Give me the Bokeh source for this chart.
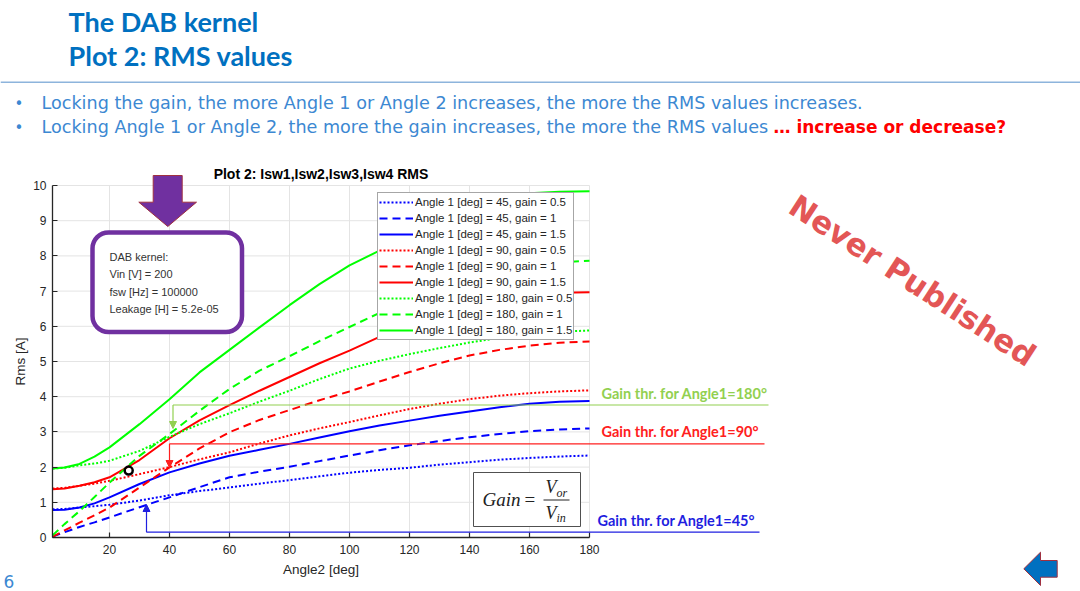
from bokeh.plotting import figure
from bokeh.models import (Range1d, FixedTicker, Label, Legend, LegendItem, Arrow, LinearAxis,
                          NormalHead, BoxAnnotation, PolyAnnotation)
from bokeh.embed import file_html
from bokeh.resources import INLINE

# ---------------- data ----------------
angle2 = [1, 5, 10, 15, 20, 30, 40, 50, 60, 70, 80, 90, 100, 110, 120, 130, 140, 150, 160, 170, 180]

rms_a45_g05 = [0.80, 0.81, 0.85, 0.89, 0.93, 1.05, 1.20, 1.32, 1.42, 1.53, 1.63, 1.74, 1.84, 1.92, 1.98, 2.07, 2.14, 2.21, 2.26, 2.30, 2.33]
rms_a45_g1 = [0.03, 0.15, 0.30, 0.43, 0.57, 0.86, 1.14, 1.43, 1.71, 1.87, 2.01, 2.17, 2.33, 2.48, 2.62, 2.74, 2.85, 2.94, 3.02, 3.07, 3.10]
rms_a45_g15 = [0.78, 0.79, 0.85, 0.97, 1.14, 1.52, 1.85, 2.10, 2.32, 2.49, 2.66, 2.84, 3.02, 3.18, 3.32, 3.46, 3.58, 3.70, 3.80, 3.86, 3.88]
rms_a90_g05 = [1.39, 1.41, 1.47, 1.53, 1.61, 1.80, 2.00, 2.22, 2.42, 2.67, 2.90, 3.10, 3.28, 3.47, 3.65, 3.80, 3.93, 4.03, 4.10, 4.15, 4.18]
rms_a90_g1 = [0.02, 0.20, 0.42, 0.63, 0.85, 1.42, 1.99, 2.53, 2.99, 3.34, 3.62, 3.90, 4.15, 4.43, 4.70, 4.95, 5.17, 5.33, 5.45, 5.53, 5.57]
rms_a90_g15 = [1.37, 1.39, 1.47, 1.57, 1.71, 2.20, 2.82, 3.33, 3.76, 4.17, 4.56, 4.95, 5.31, 5.70, 6.05, 6.33, 6.57, 6.75, 6.87, 6.95, 6.97]
rms_a180_g05 = [1.96, 1.98, 2.05, 2.10, 2.18, 2.46, 2.86, 3.22, 3.53, 3.86, 4.17, 4.50, 4.80, 5.02, 5.21, 5.38, 5.54, 5.67, 5.78, 5.85, 5.88]
rms_a180_g1 = [0.06, 0.38, 0.75, 1.15, 1.56, 2.32, 2.94, 3.60, 4.22, 4.74, 5.15, 5.58, 5.98, 6.38, 6.78, 7.10, 7.37, 7.58, 7.73, 7.82, 7.86]
rms_a180_g15 = [1.96, 1.99, 2.09, 2.30, 2.56, 3.22, 3.93, 4.69, 5.33, 5.97, 6.60, 7.20, 7.73, 8.15, 8.60, 9.05, 9.45, 9.70, 9.78, 9.82, 9.84]

series_labels = [
    "Angle 1 [deg] = 45, gain = 0.5", "Angle 1 [deg] = 45, gain = 1", "Angle 1 [deg] = 45, gain = 1.5",
    "Angle 1 [deg] = 90, gain = 0.5", "Angle 1 [deg] = 90, gain = 1", "Angle 1 [deg] = 90, gain = 1.5",
    "Angle 1 [deg] = 180, gain = 0.5", "Angle 1 [deg] = 180, gain = 1", "Angle 1 [deg] = 180, gain = 1.5",
]
series_values = [rms_a45_g05, rms_a45_g1, rms_a45_g15,
                 rms_a90_g05, rms_a90_g1, rms_a90_g15,
                 rms_a180_g05, rms_a180_g1, rms_a180_g15]

x_min, x_max = 1, 180
y_min, y_max = 0, 10
x_ticks = [20, 40, 60, 80, 100, 120, 140, 160, 180]
y_ticks = [0, 1, 2, 3, 4, 5, 6, 7, 8, 9, 10]

marker_x = [26.4]
marker_y = [1.90]

threshold_labels = ["Gain thr. for Angle1=180°", "Gain thr. for Angle1=90°", "Gain thr. for Angle1=45°"]
kernel_lines = ["DAB kernel:", "Vin [V] = 200", "fsw [Hz] = 100000", "Leakage [H] = 5.2e-05"]


# slide pixel -> chart data coordinates (chart: x=1 at px 52, 3 px/deg; y=0 at px 537, 35.2 px/A)
def X(px):
    return (px - 49.0) / 3.0


def Y(py):
    return (537.0 - py) / 35.2


# ---------------- figure ----------------
W, H = 1080, 591
p = figure(width=W, height=H, x_range=Range1d(X(0), X(W)), y_range=Range1d(Y(H), Y(0)),
           output_backend="svg", toolbar_location=None, x_axis_type=None, y_axis_type=None,
           min_border=0, background_fill_color="white", border_fill_color="white",
           outline_line_color=None)
p.title.visible = False

# grid lines at the tick values
grid_col = "#e4e4e4"
p.segment(x0=x_ticks, y0=[y_min] * len(x_ticks), x1=x_ticks, y1=[y_max] * len(x_ticks),
          line_color=grid_col, line_width=1)
p.segment(x0=[x_min] * len(y_ticks), y0=y_ticks, x1=[x_max] * len(y_ticks), y1=y_ticks,
          line_color=grid_col, line_width=1)

xaxis = LinearAxis(fixed_location=y_min, bounds=(x_min, x_max), ticker=FixedTicker(ticks=x_ticks),
                   axis_label="Angle2 [deg]")
yaxis = LinearAxis(fixed_location=x_min, bounds=(y_min, y_max), ticker=FixedTicker(ticks=y_ticks),
                   axis_label="Rms [A]")
for ax in (xaxis, yaxis):
    ax.axis_line_color = "#262626"
    ax.axis_line_width = 1.3
    ax.major_tick_line_color = "#262626"
    ax.major_tick_line_width = 1.2
    ax.major_tick_in = 5
    ax.major_tick_out = 0
    ax.minor_tick_line_color = None
    ax.major_label_text_font = "Liberation Sans"
    ax.major_label_text_font_size = "12px"
    ax.major_label_text_color = "#262626"
    ax.axis_label_text_font = "Liberation Sans"
    ax.axis_label_text_font_size = "13.5px"
    ax.axis_label_text_font_style = "normal"
    ax.axis_label_text_color = "#262626"
xaxis.major_label_standoff = 7
xaxis.axis_label_standoff = 5
yaxis.major_label_standoff = 6
yaxis.axis_label_standoff = 2
p.add_layout(xaxis, "below")
p.add_layout(yaxis, "left")

colors = ["#0000ff"] * 3 + ["#ff0000"] * 3 + ["#00ff00"] * 3
dashes = ["2 2", "8 5", "solid"] * 3

items = []
for lab, vals, c, d in zip(series_labels, series_values, colors, dashes):
    r = p.line(angle2, vals, line_color=c, line_width=2, line_dash=d)
    items.append(LegendItem(label=lab, renderers=[r]))

p.scatter(marker_x, marker_y, marker="circle", size=8, fill_color=None,
          line_color="black", line_width=2.5)

legend = Legend(items=items, location=(377, H - 339.5), margin=0, padding=1, spacing=0,
                glyph_width=34, glyph_height=16, label_height=16, label_standoff=2,
                label_text_font="Liberation Sans", label_text_font_size="11.5px",
                label_text_color="#262626", border_line_color="#a6a6a6", border_line_alpha=1,
                border_line_width=1, background_fill_color="white", background_fill_alpha=1)
p.add_layout(legend, "center")


def label(px, py, text, font, size, color, style="normal", align="left", angle=0):
    # py is the vertical centre of the text line
    p.add_layout(Label(x=X(px), y=Y(py), text=text, text_font=font, text_font_size=size,
                       text_color=color, text_font_style=style, text_align=align,
                       text_baseline="middle", angle=angle, angle_units="deg"))


# chart title
label(320.5, 173.3, "Plot 2: Isw1,Isw2,Isw3,Isw4 RMS", "Liberation Sans", "14px", "#000000", "bold",
      align="center")

# ---------- slide header ----------
label(68, 21, "The DAB kernel", "Lato", "27px", "#0070c0", "bold")
label(68, 55, "Plot 2: RMS values", "Lato", "27px", "#0070c0", "bold")
p.add_layout(BoxAnnotation(left=X(0), right=X(W), top=Y(81), bottom=Y(82.6),
                           fill_color="#8db4dc", fill_alpha=1, line_color=None))

bullet_col = "#3c88d2"
label(14, 103.5, "•", "DejaVu Sans", "15px", bullet_col)
label(14, 127, "•", "DejaVu Sans", "15px", bullet_col)
label(41, 102.5, "Locking the gain, the more Angle 1 or Angle 2 increases, the more the RMS values increases.",
      "DejaVu Sans", "17.6px", bullet_col)
label(41, 126, "Locking Angle 1 or Angle 2, the more the gain increases, the more the RMS values",
      "DejaVu Sans", "17.6px", bullet_col)
label(773, 126, "… increase or decrease?", "DejaVu Sans", "17px", "#ff0000", "bold")

label(3, 581, "6", "DejaVu Sans", "17px", "#3c88d2")

# ---------- kernel box with purple arrow ----------
p.add_layout(PolyAnnotation(
    xs=[X(v) for v in (152.7, 181.7, 181.7, 196, 167.3, 138.3, 152.7)],
    ys=[Y(v) for v in (175, 175, 201.7, 201.7, 226, 201.7, 201.7)],
    fill_color="#7030a0", fill_alpha=1, line_color="#a03040", line_alpha=1, line_width=1))
p.add_layout(BoxAnnotation(left=X(92), right=X(241.5), top=Y(232), bottom=Y(331.5),
                           border_radius=16, line_color="#7030a0", line_alpha=1, line_width=4.5,
                           fill_color="white", fill_alpha=1))
for i, t in enumerate(kernel_lines):
    label(109, 256.7 + i * 17.2, t, "Liberation Sans", "11px", "#333333")

# ---------- gain threshold markers ----------
g_col, r_col, b_col = "#92d050", "#ff2020", "#1f1fe0"
for (x0, yh, x1, ytip, col) in ((172.5, 404.5, 768, 428, g_col),
                                 (169.0, 443.3, 764, 467, r_col),
                                 (146.0, 531.7, 759, 504, b_col)):
    p.add_layout(Arrow(x_start=X(x0), y_start=Y(yh), x_end=X(x1), y_end=Y(yh), end=None,
                       line_color=col, line_width=1.2))
    p.add_layout(Arrow(x_start=X(x0), y_start=Y(yh), x_end=X(x0), y_end=Y(ytip),
                       end=NormalHead(size=7, fill_color=col, line_color=col),
                       line_color=col, line_width=1.2))
label(601, 392.7, threshold_labels[0], "Lato", "14.5px", g_col, "bold")
label(601, 430.5, threshold_labels[1], "Lato", "14.5px", r_col, "bold")
label(597, 520, threshold_labels[2], "Lato", "14.5px", b_col, "bold")

# ---------- gain formula ----------
p.add_layout(BoxAnnotation(left=X(473), right=X(580), top=Y(472), bottom=Y(526),
                           line_color="#505050", line_alpha=1, line_width=1,
                           fill_color="white", fill_alpha=1))
label(482, 499, "Gain", "Liberation Serif", "19px", "#222222", "italic")
label(524, 499, "=", "Liberation Serif", "19px", "#222222")
label(545, 486.5, "V", "Liberation Serif", "18px", "#222222", "italic")
label(556, 492, "or", "Liberation Serif", "12px", "#222222", "italic")
p.add_layout(Arrow(x_start=X(543), y_start=Y(499.5), x_end=X(569), y_end=Y(499.5), end=None,
                   line_color="#222222", line_width=1))
label(545, 512.5, "V", "Liberation Serif", "18px", "#222222", "italic")
label(556, 517, "in", "Liberation Serif", "12px", "#222222", "italic")

# ---------- watermark & nav arrow ----------
label(912, 280, "Never Published", "DejaVu Sans", "31px", "#e35656", "bold",
      align="center", angle=-33)
p.add_layout(PolyAnnotation(
    xs=[X(v) for v in (1023.3, 1040, 1040, 1056.7, 1056.7, 1040, 1040)],
    ys=[Y(v) for v in (568.3, 551.7, 560, 560, 576.7, 576.7, 585)],
    fill_color="#0070c0", fill_alpha=1, line_color="#a03040", line_alpha=1, line_width=1))

open("out.html", "w").write(file_html(p, INLINE))
